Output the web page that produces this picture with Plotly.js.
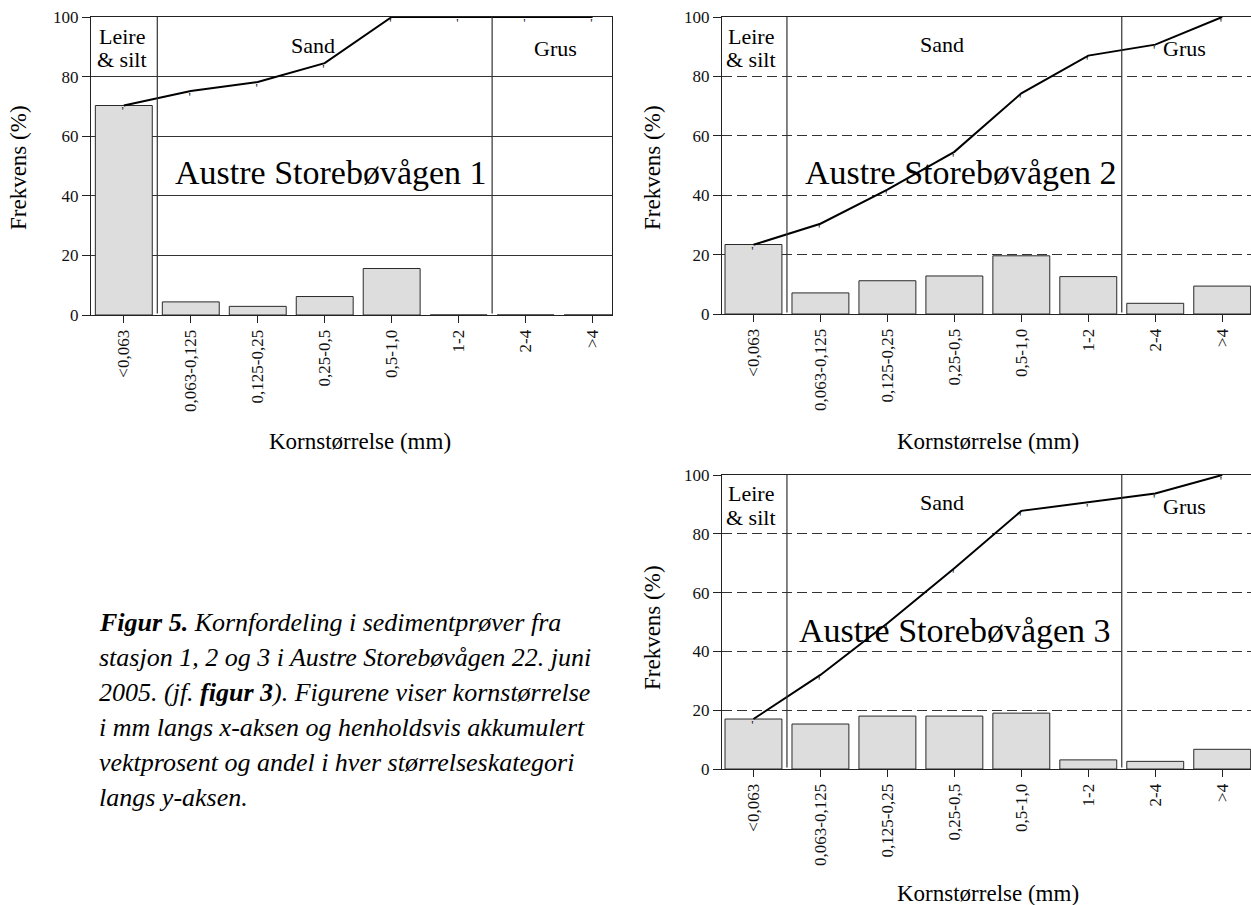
<!DOCTYPE html>
<html><head><meta charset="utf-8">
<script src="https://cdn.plot.ly/plotly-3.0.1.min.js"></script>
<style>html,body{margin:0;padding:0;background:#fff}</style>
</head><body><div id="chart" style="width:1251px;height:905px"></div>
<script>
// ---- data ----
const categories = ['<0,063', '0,063-0,125', '0,125-0,25', '0,25-0,5', '0,5-1,0', '1-2', '2-4', '>4'];
const station1Freq = [70.3, 4.4, 2.9, 6.2, 15.6, 0, 0, 0];
const station1Cum  = [70.3, 75.2, 78.2, 84.5, 100, 100, 100, 100];
const station2Freq = [23.4, 7.1, 11.2, 12.8, 19.6, 12.6, 3.6, 9.4];
const station2Cum  = [23.3, 30.4, 41.9, 54.6, 74.3, 87.0, 90.7, 100];
const station3Freq = [17.0, 15.3, 18.0, 18.0, 19.0, 3.1, 2.6, 6.7];
const station3Cum  = [17.0, 32.0, 49.6, 68.3, 87.8, 90.7, 93.7, 100];
const stationNames = ['Austre Storebøvågen 1', 'Austre Storebøvågen 2', 'Austre Storebøvågen 3'];
const yTicks = [0, 20, 40, 60, 80, 100];
const sizeClassLines = [['Leire', '& silt'], ['Sand'], ['Grus']];
const sizeClassCounts = [1, 5, 2];
const yAxisTitle = 'Frekvens (%)';
const xAxisTitle = 'Kornstørrelse (mm)';
const captionLines = [
  '<b>Figur 5.</b> Kornfordeling i sedimentprøver fra',
  'stasjon 1, 2 og 3 i Austre Storebøvågen 22. juni',
  '2005. (jf. <b>figur 3</b>). Figurene viser kornstørrelse',
  'i mm langs x-aksen og henholdsvis akkumulert',
  'vektprosent og andel i hver størrelseskategori',
  'langs y-aksen.'
];

// ---- layout helpers ----
const W = 1251, H = 905;
const px = v => v / W;
const py = v => 1 - v / H;
const FONT = 'Liberation Serif';

const panels = [
  {freq: station1Freq, cum: station1Cum, name: stationNames[0], xPix: [91, 612], yPix: [17, 315],
   xRange: [-0.49, 7.29], dash: 'solid', mirrorY: true, namePos: [0.4616, 0.478],
   yTitle: [18, 168], xTitle: [360, 441]},
  {freq: station2Freq, cum: station2Cum, name: stationNames[1], xPix: [722, 1251], yPix: [17, 314],
   xRange: [-0.47, 7.43], dash: '10px,5px', mirrorY: false, namePos: [0.452, 0.475],
   yTitle: [652, 168], xTitle: [988, 441]},
  {freq: station3Freq, cum: station3Cum, name: stationNames[2], xPix: [722, 1251], yPix: [475, 769],
   xRange: [-0.47, 7.43], dash: '10px,5px', mirrorY: false, namePos: [0.44, 0.47],
   yTitle: [652, 628], xTitle: [988, 893]}
];
const classLabelStyle = [
  {xshift: -2, ys: [0.936, 0.856]},
  {xshift: -12, ys: [0.906]},
  {xshift: -4, ys: [0.893]}
];

const idx = categories.map((_, i) => i);
const traces = [];
const shapes = [];
const annotations = [];
const layout = {
  width: W, height: H, margin: {l: 0, r: 0, t: 0, b: 0},
  paper_bgcolor: '#fff', plot_bgcolor: '#fff', showlegend: false,
  font: {family: FONT, color: '#000'}, bargap: 0
};

// class boundaries and centres from the counts
const bounds = [];
const centers = [];
let acc = 0;
sizeClassCounts.forEach((n, k) => {
  centers.push(acc + (n - 1) / 2);
  acc += n;
  if (k < sizeClassCounts.length - 1) bounds.push(acc - 0.5);
});

panels.forEach((p, i) => {
  const s = i === 0 ? '' : String(i + 1);
  const xa = 'x' + s, ya = 'y' + s;
  layout['xaxis' + s] = {
    domain: [px(p.xPix[0]), px(p.xPix[1])], range: p.xRange, anchor: ya,
    tickmode: 'array', tickvals: idx, ticktext: categories, tickangle: -90,
    ticks: 'outside', ticklen: 7, tickcolor: '#222', tickwidth: 1,
    showline: true, linecolor: '#222', linewidth: 1, mirror: true,
    showgrid: false, zeroline: false, fixedrange: true,
    tickfont: {family: FONT, size: 17, color: '#111'}
  };
  layout['yaxis' + s] = {
    domain: [py(p.yPix[1]), py(p.yPix[0])], range: [0, 100], anchor: xa,
    tickmode: 'array', tickvals: yTicks, ticks: 'outside', ticklen: 8, tickcolor: '#222',
    showline: true, linecolor: '#222', linewidth: 1, mirror: p.mirrorY,
    showgrid: true, gridcolor: '#333', gridwidth: 1, griddash: p.dash,
    zeroline: false, fixedrange: true,
    tickfont: {family: FONT, size: 17, color: '#111'}
  };
  traces.push({
    type: 'bar', x: idx, y: p.freq, xaxis: xa, yaxis: ya, width: 0.85,
    marker: {color: '#dddddd', line: {color: '#2a2a2a', width: 1}}, hoverinfo: 'skip'
  });
  traces.push({
    type: 'scatter', mode: 'lines+text', x: idx, y: p.cum, xaxis: xa, yaxis: ya,
    line: {color: '#000', width: 2}, text: p.cum.map(() => "'"),
    textposition: 'bottom left', textfont: {family: FONT, size: 13, color: '#222'},
    cliponaxis: false, hoverinfo: 'skip'
  });
  bounds.forEach(b => shapes.push({
    type: 'line', xref: xa, yref: ya + ' domain', x0: b, x1: b, y0: 0.005, y1: 1,
    line: {color: '#333', width: 1.2}
  }));
  sizeClassLines.forEach((lines, k) => {
    lines.forEach((t, j) => annotations.push({
      xref: xa, yref: ya + ' domain', x: centers[k], y: classLabelStyle[k].ys[j],
      xshift: classLabelStyle[k].xshift, text: t, showarrow: false,
      xanchor: 'center', yanchor: 'middle', font: {family: FONT, size: 22, color: '#000'}
    }));
  });
  annotations.push({
    xref: xa + ' domain', yref: ya + ' domain', x: p.namePos[0], y: p.namePos[1],
    text: p.name, showarrow: false, xanchor: 'center', yanchor: 'middle',
    font: {family: FONT, size: 34, color: '#000'}
  });
  annotations.push({
    xref: 'paper', yref: 'paper', x: px(p.yTitle[0]), y: py(p.yTitle[1]), text: yAxisTitle,
    textangle: -90, showarrow: false, xanchor: 'center', yanchor: 'middle',
    font: {family: FONT, size: 23, color: '#000'}
  });
  annotations.push({
    xref: 'paper', yref: 'paper', x: px(p.xTitle[0]), y: py(p.xTitle[1]), text: xAxisTitle,
    showarrow: false, xanchor: 'center', yanchor: 'middle',
    font: {family: FONT, size: 23, color: '#000'}
  });
});

captionLines.forEach((t, k) => annotations.push({
  xref: 'paper', yref: 'paper', x: px(97), y: py(622 + k * 35), text: '<i>' + t + '</i>',
  showarrow: false, xanchor: 'left', yanchor: 'middle',
  font: {family: FONT, size: 26, color: '#000'}
}));

layout.shapes = shapes;
layout.annotations = annotations;
Plotly.newPlot('chart', traces, layout, {displayModeBar: false, staticPlot: true});
</script>
</body></html>
